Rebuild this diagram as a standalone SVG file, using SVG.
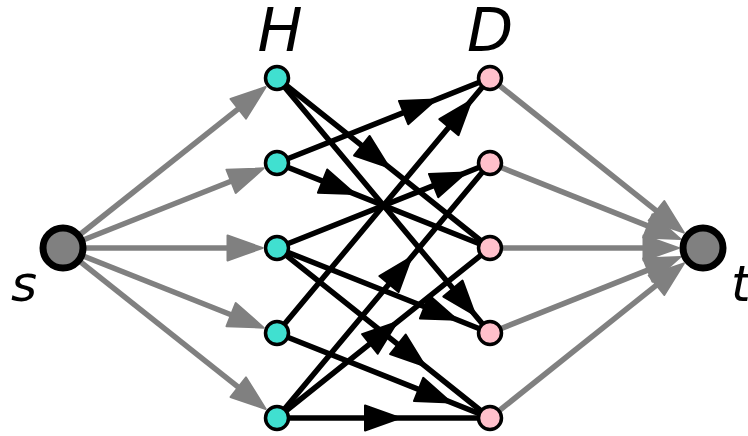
<svg xmlns="http://www.w3.org/2000/svg" width="748" height="436" viewBox="0 0 748 436">
<style>
.lbl{font-family:"DejaVu Sans","Liberation Sans",sans-serif;font-style:oblique;fill:#000}
.ge{stroke:#808080;stroke-width:5.5;fill:none;marker-end:url(#ga)}
.be{stroke:#000;stroke-width:5.5;fill:none;marker-mid:url(#ba)}
.hn{fill:#40E0D0;stroke:#000;stroke-width:3.5}
.dn{fill:#FFC0CB;stroke:#000;stroke-width:3.5}
.st{fill:#808080;stroke:#000;stroke-width:7}
</style>
<defs>
<marker id="ga" markerUnits="userSpaceOnUse" viewBox="-2 -15 40 30" refX="4" refY="0" markerWidth="40" markerHeight="30" orient="auto">
<path d="M0,-12.5 L35,0 L0,12.5 Z" fill="#808080" stroke="#808080" stroke-width="2" stroke-linejoin="round"/>
</marker>
<marker id="ba" markerUnits="userSpaceOnUse" viewBox="-2 -15 40 30" refX="4" refY="0" markerWidth="40" markerHeight="30" orient="auto">
<path d="M0,-12.5 L35,0 L0,12.5 Z" fill="#000" stroke="#000" stroke-width="2" stroke-linejoin="round"/>
</marker>
</defs>
<g id="connectors">
<path class="ge" d="M63,248 L241.4,106.3"/>
<path class="ge" d="M63,248 L234.8,179.8"/>
<path class="ge" d="M63,248 L231.5,248"/>
<path class="ge" d="M63,248 L234.8,316.2"/>
<path class="ge" d="M63,248 L241.4,389.7"/>
<path class="ge" d="M490,78 L659.6,213.3"/>
<path class="ge" d="M490,163 L651.5,227.4"/>
<path class="ge" d="M490,248 L647.5,248"/>
<path class="ge" d="M490,333 L651.5,268.6"/>
<path class="ge" d="M490,418 L659.6,282.7"/>
<path class="be" d="M277,78 L365.0,148.2 L490,248"/>
<path class="be" d="M277,78 L455.5,291.6 L490,333"/>
<path class="be" d="M277,163 L407.3,111.1 L490,78"/>
<path class="be" d="M277,163 L326.3,182.6 L490,248"/>
<path class="be" d="M277,248 L437.3,184.1 L490,163"/>
<path class="be" d="M277,248 L428.3,308.3 L490,333"/>
<path class="be" d="M277,248 L401.0,346.9 L490,418"/>
<path class="be" d="M277,333 L451.5,124.1 L490,78"/>
<path class="be" d="M277,333 L422.3,390.9 L490,418"/>
<path class="be" d="M277,418 L391.5,281.0 L490,163"/>
<path class="be" d="M277,418 L373.0,341.4 L490,248"/>
<path class="be" d="M277,418 L369,418 L490,418"/>
</g>
<g id="s"><circle class="st" cx="63" cy="248" r="20"/><text class="lbl" x="24" y="301" font-size="50" text-anchor="middle">s</text></g>
<g id="t"><circle class="st" cx="703" cy="248" r="20"/><text class="lbl" x="731" y="301" font-size="50">t</text></g>
<g id="H1"><circle class="hn" cx="277" cy="78" r="11.5"/></g>
<g id="H2"><circle class="hn" cx="277" cy="163" r="11.5"/></g>
<g id="H3"><circle class="hn" cx="277" cy="248" r="11.5"/></g>
<g id="H4"><circle class="hn" cx="277" cy="333" r="11.5"/></g>
<g id="H5"><circle class="hn" cx="277" cy="418" r="11.5"/></g>
<g id="D1"><circle class="dn" cx="490" cy="78" r="11.5"/></g>
<g id="D2"><circle class="dn" cx="490" cy="163" r="11.5"/></g>
<g id="D3"><circle class="dn" cx="490" cy="248" r="11.5"/></g>
<g id="D4"><circle class="dn" cx="490" cy="333" r="11.5"/></g>
<g id="D5"><circle class="dn" cx="490" cy="418" r="11.5"/></g>
<g id="labels">
<text class="lbl" x="280" y="51" font-size="60" text-anchor="middle">H</text>
<text class="lbl" x="490" y="51" font-size="60" text-anchor="middle">D</text>
</g>
</svg>
